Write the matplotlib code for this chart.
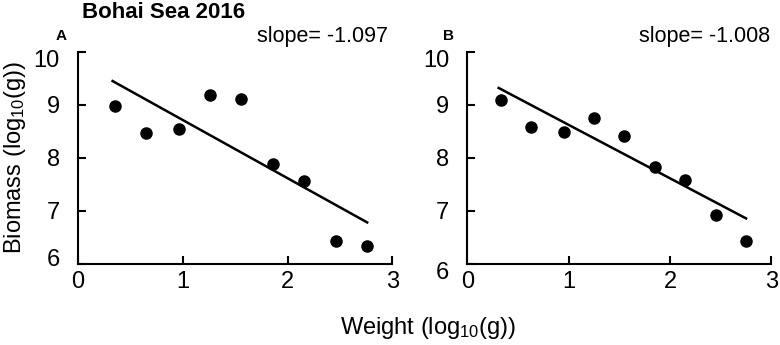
import numpy as np
import matplotlib
matplotlib.use('Agg')
import matplotlib.pyplot as plt
from matplotlib.transforms import ScaledTranslation

plt.rcParams['font.family'] = ['Liberation Sans', 'DejaVu Sans']
plt.rcParams['mathtext.default'] = 'regular'

# Panel A (Bohai Sea 2016)
weight_a = [0.35, 0.65, 0.96, 1.26, 1.56, 1.86, 2.16, 2.46, 2.76]
biomass_a = [8.98, 8.46, 8.55, 9.18, 9.10, 7.88, 7.57, 6.43, 6.34]
slope_a = -1.097
intercept_a = 9.81

# Panel B
weight_b = [0.33, 0.63, 0.95, 1.25, 1.55, 1.85, 2.15, 2.45, 2.75]
biomass_b = [9.09, 8.58, 8.48, 8.75, 8.41, 7.83, 7.58, 6.93, 6.44]
slope_b = -1.008
intercept_b = 9.63

xticks = [0, 1, 2, 3]
yticks = [6, 7, 8, 9, 10]

fig = plt.figure(figsize=(7.8, 3.45), dpi=100)
ax_a = fig.add_axes([0.100, 0.235, 0.403, 0.615])
ax_b = fig.add_axes([0.599, 0.235, 0.390, 0.615])


def draw_panel(ax, x, y, slope, intercept, shift_six):
    ax.plot(x, y, 'o', color='black', markersize=8, zorder=3)
    xl = np.array([x[0] - 0.02, x[-1]])
    ax.plot(xl, intercept + slope * xl, color='black', linewidth=1.8)
    ax.set_xlim(0, 3)
    ax.set_ylim(6, 10)
    ax.set_xticks(xticks)
    ax.set_yticks(yticks)
    ax.spines['top'].set_visible(False)
    ax.spines['right'].set_visible(False)
    for s in ['left', 'bottom']:
        ax.spines[s].set_linewidth(1.5)
    ax.tick_params(direction='in', length=6, width=1.5, labelsize=17)
    ax.tick_params(axis='y', pad=13)
    ax.tick_params(axis='x', pad=5)
    labels = ax.get_yticklabels()
    labels[-1].set_transform(labels[-1].get_transform() +
                             ScaledTranslation(0, -7 / 100, fig.dpi_scale_trans))
    labels[0].set_transform(labels[0].get_transform() +
                            ScaledTranslation(0, shift_six / 100, fig.dpi_scale_trans))


draw_panel(ax_a, weight_a, biomass_a, slope_a, intercept_a, 6)
draw_panel(ax_b, weight_b, biomass_b, slope_b, intercept_b, -7)

fig.text(82 / 780, 1 - 13 / 345, 'Bohai Sea 2016', fontsize=16, fontweight='bold',
         ha='left', va='center')
fig.text(0.071, 0.897, 'A', fontsize=11, fontweight='bold', ha='left', va='center')
fig.text(0.568, 0.897, 'B', fontsize=11, fontweight='bold', ha='left', va='center')
fig.text(0.497, 0.895, 'slope= %.3f' % slope_a, fontsize=15.5, ha='right', va='center')
fig.text(0.987, 0.895, 'slope= %.3f' % slope_b, fontsize=15.5, ha='right', va='center')

fig.text(0.019, 0.545, 'Biomass (log$_{10}$(g))', fontsize=17, rotation=90,
         ha='center', va='center')
fig.text(0.549, 0.048, 'Weight (log$_{10}$(g))', fontsize=17, ha='center', va='center')

fig.savefig('out.png', dpi=100)
